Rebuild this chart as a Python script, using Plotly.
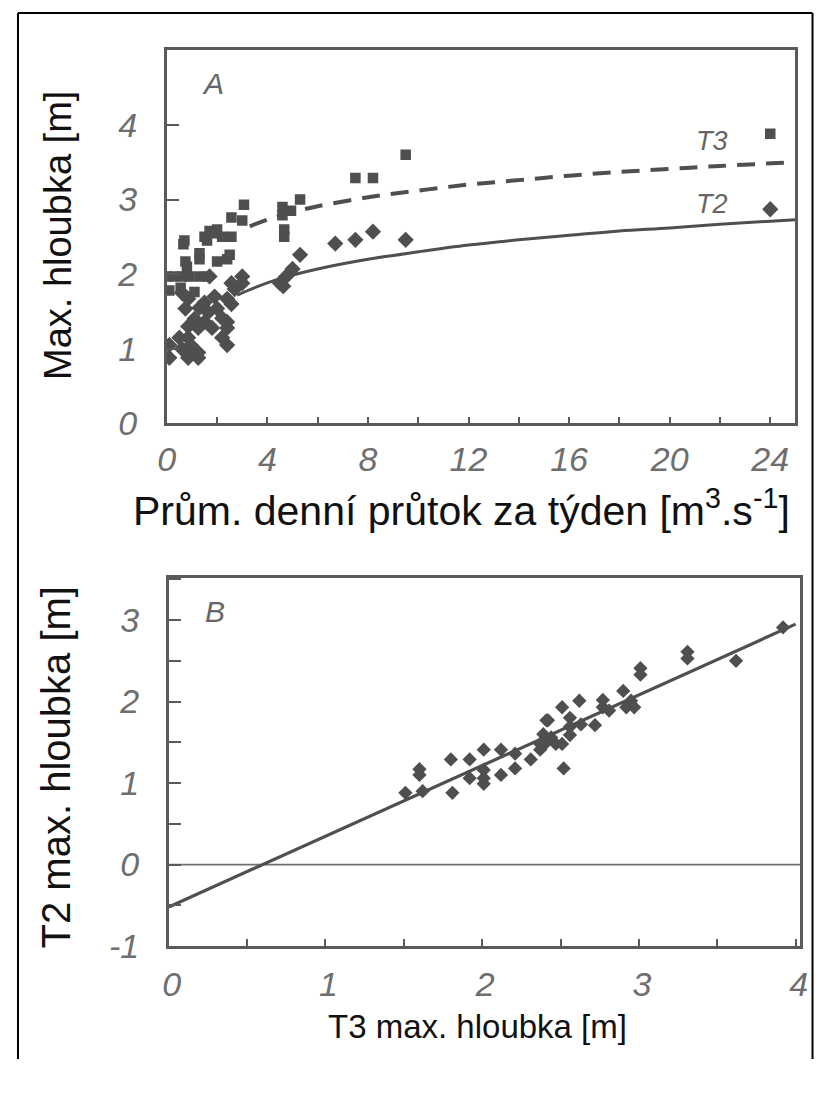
import plotly.graph_objects as go

# ---------------- Panel A data ----------------
t3_q = [0.0, 0.3, 0.6, 0.9, 1.3, 1.6, 0.1, 0.55, 1.1, 0.8, 0.74, 0.7, 0.66, 1.3, 1.3,
        1.5, 1.6, 1.8, 2.0, 2.2, 1.7, 2.0, 2.5, 2.4, 2.57, 2.57, 3.0, 3.07,
        4.6, 4.94, 5.3, 4.6, 4.67, 4.67, 7.5, 8.2, 9.5, 24.0]
t3_h = [1.97, 1.97, 1.97, 1.97, 1.97, 1.97, 1.78, 1.82, 1.76, 2.1, 2.17, 2.45, 2.4, 2.2, 2.28,
        2.5, 2.45, 2.55, 2.6, 2.5, 2.58, 2.17, 2.26, 2.2, 2.5, 2.76, 2.72, 2.93,
        2.9, 2.85, 3.0, 2.79, 2.5, 2.6, 3.29, 3.29, 3.6, 3.88]

t2_q = [0.1, 0.1, 0.5, 0.85, 0.85, 0.95, 0.85, 1.25, 1.25, 0.6,
        0.74, 0.85, 1.5, 1.65, 1.5, 2.0, 2.2, 2.4, 1.25, 1.8, 2.4, 2.2, 2.4, 1.1, 1.9, 1.3,
        2.57, 2.7, 3.0, 3.0, 2.4, 2.57, 0.6, 1.7,
        4.5, 4.75, 5.0, 4.63, 5.3, 6.7, 7.5, 8.2, 9.5, 24.0]
t2_h = [1.05, 0.88, 1.15, 1.3, 1.15, 1.05, 0.88, 0.88, 0.95, 1.0,
        1.54, 1.67, 1.62, 1.49, 1.36, 1.54, 1.41, 1.36, 1.28, 1.28, 1.05, 1.15, 1.28, 1.4, 1.7, 1.55,
        1.88, 1.8, 1.97, 1.88, 1.67, 1.6, 1.75, 1.97,
        1.88, 1.97, 2.07, 1.84, 2.26, 2.41, 2.46, 2.57, 2.46, 2.87]

# fitted curves
t3_fit_q = [3.3, 4, 5, 6, 8, 10, 12, 14, 16, 18, 20, 22, 25]
t3_fit_h = [2.64, 2.73, 2.83, 2.91, 3.03, 3.12, 3.20, 3.26, 3.32, 3.37, 3.41, 3.45, 3.50]
t2_fit_q = [2.8, 3.5, 4.5, 6, 8, 10, 12, 14, 16, 18, 20, 22, 25]
t2_fit_h = [1.72, 1.82, 1.94, 2.07, 2.20, 2.30, 2.39, 2.46, 2.52, 2.58, 2.62, 2.67, 2.73]

# ---------------- Panel B data ----------------
b_t3 = [1.51, 1.6, 1.6, 1.62, 1.8, 1.92, 1.81, 1.92, 2.01, 2.01, 2.01, 2.01, 2.12, 2.12, 2.21, 2.21,
        2.31, 2.37, 2.42, 2.4, 2.44, 2.41, 2.39, 2.37, 2.51, 2.52, 2.56, 2.56, 2.56, 2.47, 2.51,
        2.62, 2.63, 2.72, 2.77, 2.77, 2.81, 2.9, 2.92, 2.95, 2.97, 3.01, 3.01, 3.31, 3.31, 3.62, 3.92]
b_t2 = [0.88, 1.17, 1.1, 0.9, 1.29, 1.29, 0.88, 1.06, 1.41, 1.06, 0.99, 1.16, 1.41, 1.1, 1.36, 1.18,
        1.29, 1.41, 1.77, 1.48, 1.56, 1.77, 1.6, 1.48, 1.93, 1.18, 1.8, 1.69, 1.59, 1.48, 1.48,
        2.01, 1.72, 1.71, 2.02, 1.93, 1.89, 2.13, 1.93, 2.01, 1.93, 2.41, 2.33, 2.61, 2.53, 2.5, 2.91]
b_fit_x = [0, 4]
b_fit_y = [-0.52, 2.95]

A_xticks = [0, 4, 8, 12, 16, 20, 24]
A_yticks = [0, 1, 2, 3, 4]
B_xticks = [0, 1, 2, 3, 4]
B_yticks = [-1, 0, 1, 2, 3]
B_yticklabels = ['-1', '0', '1', '2', '3']

# page has an 8px body margin: figure drawn at page offset (8, 8); keep everything inside the viewport
OFF = 8
W, H = 814, 1070


def px(x):
    return (x - OFF) / W


def py(y):
    return 1 - (y - OFF) / H


INK = '#4f4f4f'
FRAME = '#5a5a5a'
TICKC = '#6e6e6e'

fig = go.Figure()

fig.add_trace(go.Scatter(x=t3_fit_q, y=t3_fit_h, mode='lines', line_shape='spline',
                         line=dict(color=INK, width=4, dash='18px,11px'),
                         xaxis='x', yaxis='y', hoverinfo='skip'))
fig.add_trace(go.Scatter(x=t2_fit_q, y=t2_fit_h, mode='lines', line_shape='spline',
                         line=dict(color=INK, width=3),
                         xaxis='x', yaxis='y', hoverinfo='skip'))
fig.add_trace(go.Scatter(x=t3_q, y=t3_h, mode='markers',
                         marker=dict(symbol='square', size=10.5, color=INK),
                         xaxis='x', yaxis='y'))
fig.add_trace(go.Scatter(x=t2_q, y=t2_h, mode='markers',
                         marker=dict(symbol='diamond', size=12.5, color=INK),
                         xaxis='x', yaxis='y'))

fig.add_trace(go.Scatter(x=[0, 4.03], y=[0, 0], mode='lines',
                         line=dict(color='#707070', width=1.8),
                         xaxis='x2', yaxis='y2', hoverinfo='skip'))
fig.add_trace(go.Scatter(x=b_fit_x, y=b_fit_y, mode='lines',
                         line=dict(color=INK, width=3.2),
                         xaxis='x2', yaxis='y2', hoverinfo='skip'))
fig.add_trace(go.Scatter(x=b_t3, y=b_t2, mode='markers',
                         marker=dict(symbol='diamond', size=11, color=INK),
                         xaxis='x2', yaxis='y2'))

tickfont = dict(family='Liberation Sans, Arial, sans-serif', size=34, color=TICKC, style='italic')
common = dict(showgrid=False, zeroline=False, showline=True, linecolor=FRAME, linewidth=2.5,
              mirror=True, ticks='inside', tickcolor=FRAME, tickwidth=1.5, tickfont=tickfont)

fig.update_layout(
    width=W, height=H, margin=dict(l=0, r=0, t=0, b=0),
    paper_bgcolor='white', plot_bgcolor='white', showlegend=False,
    xaxis=dict(domain=[px(161), px(803)], anchor='y', range=[0, 25], tickvals=A_xticks,
               ticklen=7, ticklabelstandoff=4,
               minor=dict(dtick=2, ticks='inside', ticklen=7, tickcolor=FRAME, tickwidth=1.5),
               **common),
    yaxis=dict(domain=[py(431), py(51)], anchor='x', range=[0, 5], tickvals=A_yticks,
               ticklen=12, ticklabelstandoff=20, **common),
    xaxis2=dict(domain=[px(163), px(808)], anchor='y2', range=[0, 4.03], tickvals=B_xticks,
                ticklen=7, ticklabelstandoff=6, ticklabelshift=3,
                minor=dict(dtick=0.5, ticks='inside', ticklen=7, tickcolor=FRAME, tickwidth=1.5),
                **common),
    yaxis2=dict(domain=[py(963), py(588)], anchor='x2', range=[-1, 3.52], tickvals=B_yticks,
                ticktext=B_yticklabels, ticklen=12, ticklabelstandoff=20,
                minor=dict(dtick=0.5, ticks='inside', ticklen=12, tickcolor=FRAME, tickwidth=1.5),
                **common),
)


def tf(size):
    return dict(family='Liberation Sans, Arial, sans-serif', size=size, color='#111111')


labfont = dict(family='Liberation Sans, Arial, sans-serif', size=30, color='#666666', style='italic')

annos = [
    dict(x=px(50), y=py(240), text='Max. hloubka [m]', textangle=-90, font=tf(38)),
    dict(x=px(462), y=py(517), text='Prům. denní průtok za týden [m<sup>3</sup>.s<sup>-1</sup>]', font=tf(41)),
    dict(x=px(48), y=py(781), text='T2 max. hloubka [m]', textangle=-90, font=tf(40)),
    dict(x=px(478), y=py(1045), text='T3 max. hloubka [m]', font=tf(33)),
    dict(x=px(208), y=py(85), text='A', font=labfont),
    dict(x=px(210), y=py(622), text='B', font=labfont),
    dict(x=px(718), y=py(143), text='T3', font=dict(labfont, size=27)),
    dict(x=px(718), y=py(208), text='T2', font=dict(labfont, size=27)),
]
for a in annos:
    fig.add_annotation(xref='paper', yref='paper', showarrow=False, xanchor='center', yanchor='middle', **a)

# outer frame: left, top and right edges (continues past the bottom of the picture)
bl = dict(color='black', width=2)
xr = 1 - 1.5 / W
for x0, y0, x1, y1 in [(px(9), 0, px(9), py(13)),
                       (px(9), py(13), xr, py(13)),
                       (xr, 0, xr, py(13))]:
    fig.add_shape(type='line', xref='paper', yref='paper', x0=x0, y0=y0, x1=x1, y1=y1,
                  line=bl, layer='above')

fig.write_html('out.html')
